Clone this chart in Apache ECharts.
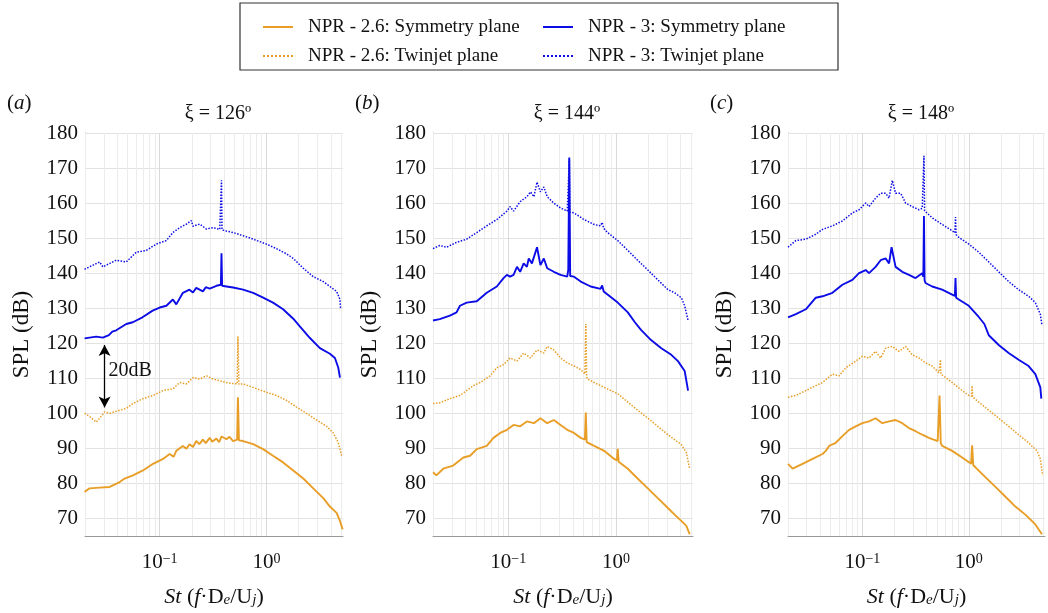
<!DOCTYPE html>
<html>
<head>
<meta charset="utf-8">
<script src="https://cdn.jsdelivr.net/npm/echarts@6/dist/echarts.min.js"></script>
<style>
  html, body { margin: 0; padding: 0; background: #fff; }
  #chart { width: 1048px; height: 613px; }
</style>
</head>
<body>
<div id="chart"></div>
<script>
// series names (legend) and panel captions
const seriesNames = ['NPR - 2.6: Symmetry plane', 'NPR - 2.6: Twinjet plane', 'NPR - 3: Symmetry plane', 'NPR - 3: Twinjet plane'];
const panelTags = ['a', 'b', 'c'];
const panelAngles = ['126', '144', '148'];

// St grid lines (log axis) and y ticks
const stMinor = [0.02, 0.03, 0.04, 0.05, 0.06, 0.07, 0.08, 0.09, 0.2, 0.3, 0.4, 0.5, 0.6, 0.7, 0.8, 0.9, 2, 3, 4, 5];
const stMajor = [0.1, 1];
const stRange = [0.02, 5.2];
const splRange = [65, 180];

// (a) xi = 126
const a26Sym = [[0.0198,77.6],[0.0221,78.6],[0.0274,78.8],[0.034,79],[0.0422,80.4],[0.047,81.4],[0.0562,82.3],[0.0698,83.7],[0.0866,85.6],[0.1075,87],[0.124,88.4],[0.135,87.6],[0.143,89.3],[0.165,90.7],[0.178,89.9],[0.19,91.2],[0.205,90.4],[0.22,92.1],[0.235,91.2],[0.254,92.5],[0.27,91.5],[0.294,93],[0.31,91.9],[0.34,92.8],[0.36,91.8],[0.38,93.4],[0.422,92.6],[0.45,93.3],[0.487,92.1],[0.531,92.5],[0.54,104.6],[0.552,92.3],[0.604,92.1],[0.75,91.2],[0.93,89.8],[1.15,87.9],[1.43,86],[1.78,83.7],[2.21,81.4],[2.74,78.6],[3.4,75.8],[3.92,73.4],[4.53,71.6],[4.87,69.3],[5.16,66.9]];
const a26Twin = [[0.0198,100],[0.0221,99.1],[0.0255,97.5],[0.0274,98.6],[0.0305,100.4],[0.034,100],[0.0422,100.9],[0.0487,101.4],[0.0562,102.8],[0.0698,104.2],[0.0866,105.1],[0.1075,106.5],[0.1334,107],[0.154,108.8],[0.178,108.4],[0.205,110.2],[0.237,109.8],[0.274,110.7],[0.316,109.8],[0.365,109.3],[0.422,108.8],[0.487,108.5],[0.531,108.4],[0.54,121.9],[0.552,108.3],[0.604,108.4],[0.75,107.4],[1.0,106],[1.24,105.1],[1.54,103.7],[1.91,101.8],[2.37,100],[2.94,98.1],[3.65,96.3],[4.22,94.4],[4.7,91.6],[5.05,87.9]];
const a3Sym = [[0.0198,121.4],[0.0255,121.9],[0.0294,121.6],[0.0335,122.3],[0.036,123.3],[0.0392,123.7],[0.0487,125.5],[0.056,126],[0.069,127.4],[0.086,129.3],[0.1,130.2],[0.1155,130.7],[0.133,132.5],[0.143,131.1],[0.165,134.4],[0.19,135.3],[0.205,134.5],[0.22,135.8],[0.254,134.8],[0.27,136],[0.294,135.6],[0.34,136.4],[0.374,136.7],[0.379,145.7],[0.384,136.4],[0.422,136.2],[0.487,135.9],[0.604,135.3],[0.75,134.4],[0.93,133],[1.15,131.6],[1.43,129.7],[1.78,127],[2.05,124.8],[2.55,121.5],[3.16,118.6],[3.92,117],[4.37,115.8],[4.7,113],[4.87,110.2]];
const a3Twin = [[0.0198,141.1],[0.0274,143.2],[0.0294,141.8],[0.0392,143.7],[0.0487,143.2],[0.0604,146],[0.075,146.5],[0.093,148.3],[0.1155,149.3],[0.133,151.6],[0.154,153],[0.178,154],[0.198,155],[0.205,153.4],[0.237,154],[0.274,152.6],[0.316,153],[0.365,152.5],[0.375,152.3],[0.379,166.5],[0.383,152.4],[0.422,152],[0.487,151.6],[0.604,150.7],[0.75,149.7],[1.0,148.3],[1.24,147],[1.54,145.5],[1.78,144.2],[2.21,141.4],[2.74,139],[3.4,137.6],[3.92,136.2],[4.53,134.8],[4.87,132.5],[4.94,129.7]];

// (b) xi = 144
const b26Sym = [[0.02,83.2],[0.0215,82.3],[0.0249,84.2],[0.0308,85.1],[0.0383,87.4],[0.0442,87.9],[0.051,89.8],[0.0631,90.7],[0.0729,93],[0.0841,94.4],[0.0972,95.3],[0.112,96.7],[0.129,96.3],[0.149,97.7],[0.173,97.2],[0.199,98.6],[0.23,97.2],[0.265,98.1],[0.306,96.7],[0.353,95.3],[0.408,94.4],[0.471,93],[0.515,92.5],[0.525,100.2],[0.535,91.8],[0.543,91.6],[0.628,90.7],[0.778,89.3],[0.964,87],[1.02,86.6],[1.04,89.9],[1.06,86.2],[1.29,84.2],[1.59,81.4],[1.98,78.6],[2.45,75.8],[3.04,73],[3.51,71.1],[4.05,69.3],[4.51,67.9],[4.84,65.5]];
const b26Twin = [[0.02,102.8],[0.0231,103],[0.0287,104.2],[0.0356,105.1],[0.0474,107.9],[0.0547,108.8],[0.0679,110.7],[0.0783,113],[0.0904,113.9],[0.104,115.8],[0.1205,114.9],[0.139,117.2],[0.161,115.8],[0.185,118.1],[0.214,117.2],[0.23,119.1],[0.265,118.1],[0.306,115.8],[0.353,114.4],[0.408,113.5],[0.471,112.5],[0.515,111.2],[0.525,125.5],[0.535,110.5],[0.543,109.8],[0.628,108.8],[0.778,107.4],[1.04,105.6],[1.29,103.2],[1.59,100.9],[1.98,98.6],[2.45,96.3],[3.04,93.9],[3.51,92.5],[4.05,91.1],[4.51,88.8],[4.84,84.2]];
const b3Sym = [[0.02,126.5],[0.0231,126.9],[0.0287,127.9],[0.0331,128.8],[0.0356,130.7],[0.0411,131.6],[0.051,132],[0.0631,134.4],[0.0783,136.2],[0.0904,138.6],[0.0972,139.5],[0.104,139],[0.112,139.5],[0.1205,141.8],[0.129,140.4],[0.139,142.8],[0.149,141.8],[0.155,144.2],[0.166,142.8],[0.185,147.4],[0.199,142.3],[0.214,144.2],[0.23,141.4],[0.265,140.4],[0.306,139.5],[0.353,139],[0.361,140.9],[0.369,173],[0.376,139.2],[0.408,139],[0.471,137.6],[0.583,136.2],[0.72,135.5],[0.745,136.5],[0.77,134.8],[0.836,133.9],[1.04,131.6],[1.29,128.8],[1.5,126],[1.71,123.8],[2.12,120.9],[2.64,118.6],[3.27,116.7],[3.77,114.9],[4.35,112.1],[4.68,106.5]];
const b3Twin = [[0.02,147],[0.0231,147.9],[0.0267,147.4],[0.0331,148.8],[0.0411,149.7],[0.051,151.6],[0.0631,153.5],[0.0783,155.3],[0.0972,157.7],[0.104,159],[0.112,157.7],[0.129,160.4],[0.149,161.8],[0.161,163.2],[0.173,161.8],[0.185,166],[0.199,163.2],[0.214,164.6],[0.23,161.8],[0.265,160],[0.306,158.6],[0.353,157.7],[0.364,157.5],[0.369,172.6],[0.374,157.4],[0.408,157.2],[0.506,155.3],[0.628,153.9],[0.72,153.5],[0.745,154.5],[0.77,152.8],[0.836,151.6],[1.04,149.3],[1.29,146.5],[1.59,143.7],[1.98,140.9],[2.45,138.1],[3.04,135.3],[3.51,134.4],[4.05,133],[4.35,130.7],[4.68,126.5]];

// (c) xi = 148
const c26Sym = [[0.02,85.6],[0.0221,84.2],[0.0274,85.6],[0.034,87],[0.0422,88.4],[0.0453,89.3],[0.0487,90.7],[0.0562,91.6],[0.0649,93.5],[0.075,95.3],[0.0866,96.3],[0.1,97.2],[0.1155,97.7],[0.133,98.6],[0.154,97.2],[0.178,97.7],[0.205,98.1],[0.237,97.2],[0.274,95.8],[0.316,94.9],[0.365,93.9],[0.422,93],[0.51,92.1],[0.531,105.1],[0.545,91.5],[0.562,90.7],[0.698,89.3],[0.866,87.4],[1.05,85.6],[1.075,90.9],[1.1,85.2],[1.155,84.6],[1.43,81.8],[1.78,79],[2.21,76.2],[2.74,73.4],[3.4,71.1],[4.22,68.3],[4.87,65.5]];
const c26Twin = [[0.02,104.6],[0.0237,105.1],[0.0294,106.5],[0.0365,107.9],[0.0422,108.8],[0.0523,111.2],[0.0604,110.7],[0.0698,113],[0.0866,114.9],[0.1,116.3],[0.1155,115.8],[0.133,117.7],[0.1485,115.8],[0.1655,118.6],[0.191,119.1],[0.221,117.7],[0.255,119.1],[0.294,116.7],[0.34,115.8],[0.392,114.4],[0.453,113.5],[0.523,111.6],[0.537,111.4],[0.542,115.3],[0.547,111.2],[0.562,110.7],[0.698,108.8],[0.866,106.5],[1.0,105.1],[1.065,104.9],[1.075,107.9],[1.085,104.7],[1.24,103.2],[1.54,100.9],[1.91,98.6],[2.37,96.3],[2.94,93.9],[3.65,91.6],[4.37,89.3],[4.7,87],[4.94,82.3]];
const c3Sym = [[0.02,127.4],[0.0237,128.3],[0.0294,129.7],[0.0365,133],[0.0422,133.4],[0.0523,134.4],[0.0649,136.7],[0.0806,138.1],[0.093,140],[0.1075,140.9],[0.1155,140],[0.133,141.8],[0.1485,143.7],[0.1655,144.2],[0.178,142.8],[0.188,147.4],[0.205,141.8],[0.237,140.4],[0.274,139.5],[0.316,138.6],[0.365,140],[0.374,139],[0.379,156.3],[0.384,138],[0.392,137.2],[0.453,136.2],[0.562,135.3],[0.698,133.9],[0.74,133.5],[0.75,138.6],[0.76,133],[0.806,132.5],[1.0,130.7],[1.24,127.5],[1.4,125.5],[1.54,122.3],[1.91,119.5],[2.37,117.2],[2.94,115.3],[3.65,113.5],[4.22,111.2],[4.7,107.4],[4.8,104.2]];
const c3Twin = [[0.02,147.4],[0.0237,149.3],[0.0294,149.7],[0.0365,151.1],[0.0422,152.5],[0.0523,153.5],[0.0649,154.9],[0.0806,157.2],[0.093,158.1],[0.1075,160],[0.1155,159],[0.133,161.4],[0.1485,162.8],[0.1655,162.8],[0.178,161.4],[0.191,166.5],[0.205,162.8],[0.229,162.8],[0.255,160],[0.294,159],[0.34,158.1],[0.365,158.5],[0.374,158],[0.379,173.5],[0.384,157.8],[0.392,157.7],[0.453,155.8],[0.562,153.9],[0.698,152.1],[0.74,151.5],[0.75,156],[0.76,151],[0.806,150.2],[1.0,148.3],[1.24,146],[1.54,143.2],[1.91,140.4],[2.37,137.6],[2.94,135.3],[3.65,133.4],[4.22,131.6],[4.7,128.3],[4.87,125.1]];

// 20 dB scale arrow in panel (a)
const arrowSt = 0.0305;
const arrowDb = [119.5, 101.7];
const arrowText = '20dB';

const panelData = [
  [a26Sym, a26Twin, a3Sym, a3Twin],
  [b26Sym, b26Twin, b3Sym, b3Twin],
  [c26Sym, c26Twin, c3Sym, c3Twin]
];

// layout / style
const FONT = 'Liberation Serif';
const ORANGE = '#E89E26';
const BLUE = '#0C0CE6';
const gridLeft = [85, 433, 788];
const gridWidth = [258, 260, 258];
const gridTop = 133, gridHeight = 412;
const lineStyles = [
  { color: ORANGE, type: 'solid', width: 1.9 },
  { color: ORANGE, type: 'dotted', width: 1.5 },
  { color: BLUE, type: 'solid', width: 1.9 },
  { color: BLUE, type: 'dotted', width: 1.5 }
];

function powLabel(v) {
  const e = Math.log10(v), r = Math.round(e);
  if (Math.abs(e - r) > 1e-6) return '';
  return '{n|10}{s|' + (r < 0 ? '\u2212' + (-r) : r) + '}';
}

const chart = echarts.init(document.getElementById('chart'));

const grids = [], xAxes = [], yAxes = [], series = [], graphics = [];

panelData.forEach((curves, p) => {
  grids.push({ left: gridLeft[p], top: gridTop, width: gridWidth[p], height: gridHeight });

  xAxes.push({
    type: 'log', logBase: 10, gridIndex: p, min: stRange[0], max: stRange[1],
    axisLine: { show: true, lineStyle: { color: '#999', width: 1 } },
    axisTick: { show: false },
    splitLine: { show: false },
    axisLabel: {
      formatter: powLabel, margin: 16, color: '#111',
      rich: {
        n: { fontFamily: FONT, fontSize: 21, color: '#111', lineHeight: 22, verticalAlign: 'top' },
        s: { fontFamily: FONT, fontSize: 14, color: '#111', lineHeight: 34, verticalAlign: 'top' }
      }
    },
    name: '{i|St}{n| (}{i|f}{n|\u00b7D}{sub|e}{n|/U}{sub|j}{n|)}',
    nameLocation: 'middle', nameGap: 34,
    nameTextStyle: {
      rich: {
        i: { fontFamily: FONT, fontSize: 22, fontStyle: 'italic', color: '#111', lineHeight: 24, verticalAlign: 'bottom' },
        n: { fontFamily: FONT, fontSize: 22, color: '#111', lineHeight: 24, verticalAlign: 'bottom' },
        sub: { fontFamily: FONT, fontSize: 15, fontStyle: 'italic', color: '#111', lineHeight: 38, verticalAlign: 'bottom' }
      }
    }
  });

  yAxes.push({
    type: 'value', gridIndex: p, min: splRange[0], max: splRange[1], splitNumber: 12,
    axisLine: { show: true, lineStyle: { color: '#999', width: 1 } },
    axisTick: { show: false },
    splitLine: { show: true, lineStyle: { color: '#e2e2e2', width: 1 } },
    axisLabel: { showMinLabel: false, fontFamily: FONT, fontSize: 21, color: '#111', margin: 7 },
    name: 'SPL (dB)', nameLocation: 'middle', nameGap: 52,
    nameTextStyle: { fontFamily: FONT, fontSize: 23, color: '#111' }
  });

  curves.forEach((data, k) => {
    const s = {
      type: 'line', name: seriesNames[k], xAxisIndex: p, yAxisIndex: p,
      data: data, symbol: 'none', showSymbol: false, animation: false,
      lineStyle: lineStyles[k], itemStyle: { color: lineStyles[k].color },
      z: 3
    };
    if (k === 0) {
      // vertical grid lines at decade sub-divisions
      s.markLine = {
        silent: true, symbol: 'none', z: 1, animation: false,
        label: { show: false },
        data: stMinor.map(v => ({ xAxis: v, lineStyle: { color: '#ececec', width: 1, type: 'solid' } }))
          .concat(stMajor.map(v => ({ xAxis: v, lineStyle: { color: '#dadada', width: 1, type: 'solid' } })))
      };
    }
    if (p === 0 && k === 2) {
      s.markLine = {
        silent: true, symbol: ['arrow', 'arrow'], symbolSize: [9, 11], z: 4, animation: false,
        label: { show: false },
        lineStyle: { color: '#000', width: 1.3, type: 'solid' },
        data: [[{ coord: [arrowSt, arrowDb[0]] }, { coord: [arrowSt, arrowDb[1]] }]]
      };
      s.markPoint = {
        silent: true, symbol: 'circle', symbolSize: 0, animation: false,
        label: { show: true, position: 'right', distance: 4, formatter: arrowText, fontFamily: FONT, fontSize: 20, color: '#111' },
        data: [{ coord: [arrowSt, (arrowDb[0] + arrowDb[1]) / 2 + 1.5] }]
      };
    }
    series.push(s);
  });

  const cx = gridLeft[p] + gridWidth[p] / 2;
  graphics.push({
    type: 'text', x: cx + 4, y: 114,
    style: { text: '\u03be = ' + panelAngles[p] + '\u00ba', font: '20px "' + FONT + '"', fill: '#111', textAlign: 'center', textVerticalAlign: 'middle' }
  });
  graphics.push({
    type: 'text', x: gridLeft[p] - 78, y: 103,
    style: {
      text: '({i|' + panelTags[p] + '})', font: '21px "' + FONT + '"', fill: '#111', textVerticalAlign: 'middle',
      rich: { i: { fontFamily: FONT, fontSize: 21, fontStyle: 'italic', fill: '#111' } }
    }
  });
});

// legend frame
graphics.push({
  type: 'rect', shape: { x: 240, y: 3, width: 598, height: 67 },
  style: { fill: 'none', stroke: '#333', lineWidth: 1.2 }
});

const legendText = { fontFamily: FONT, fontSize: 19, color: '#111', lineHeight: 20, padding: [0, 0, 0, 10] };
const legendBase = { top: 12, orient: 'vertical', itemWidth: 30, itemHeight: 14, itemGap: 9, selectedMode: false,
  itemStyle: { opacity: 0 }, textStyle: legendText };

chart.setOption({
  backgroundColor: '#fff',
  animation: false,
  legend: [
    Object.assign({ left: 257, data: [seriesNames[0], seriesNames[1]] }, legendBase),
    Object.assign({ left: 537, data: [seriesNames[2], seriesNames[3]] }, legendBase)
  ],
  grid: grids,
  xAxis: xAxes,
  yAxis: yAxes,
  series: series,
  graphic: graphics
});
</script>
</body>
</html>
